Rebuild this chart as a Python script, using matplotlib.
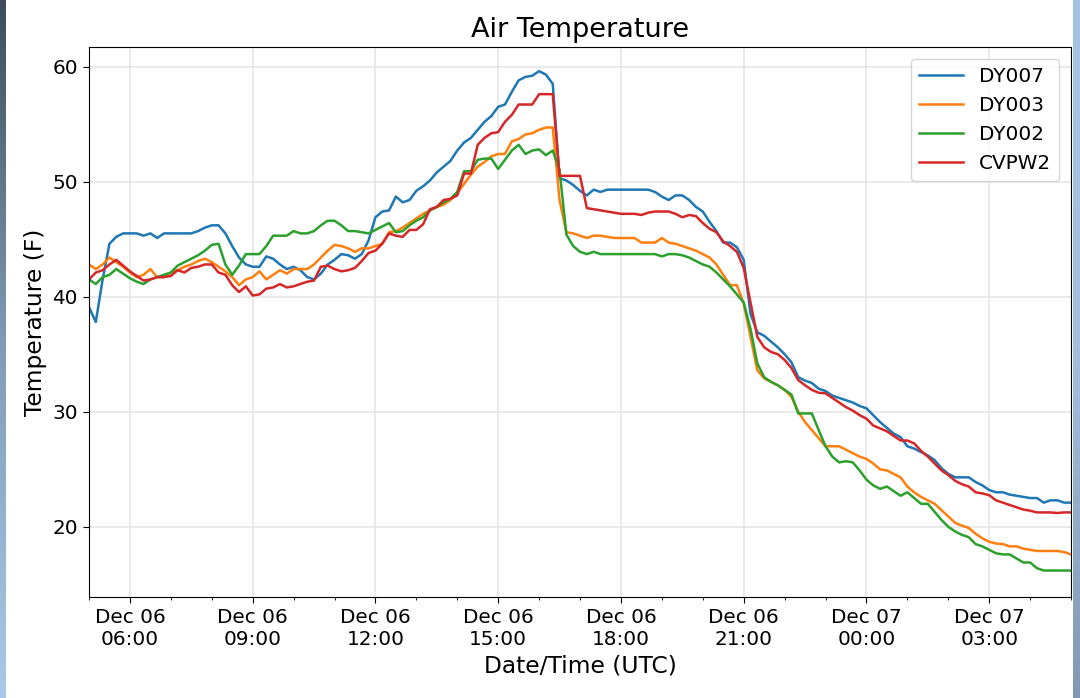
import numpy as np
import pandas as pd
import matplotlib
matplotlib.use("Agg")
import matplotlib.pyplot as plt
import matplotlib.dates as mdates

# 10-minute observations, Dec 06 05:00 UTC -> Dec 07 05:00 UTC
times = pd.date_range("2018-12-06 05:00", periods=145, freq="10min")

dy007 = [
    39.1, 37.8, 41.5, 44.6, 45.2, 45.5, 45.5, 45.5, 45.3, 45.5, 45.1, 45.5, 45.5, 45.5, 45.5, 45.5,
    45.7, 46.0, 46.2, 46.2, 45.5, 44.4, 43.4, 42.8, 42.6, 42.6, 43.5, 43.3, 42.8, 42.4, 42.6, 42.3,
    41.7, 41.5, 42.0, 42.8, 43.2, 43.7,
    43.6, 43.3, 43.7, 44.9, 46.9, 47.4, 47.5, 48.7, 48.2, 48.4, 49.2, 49.6, 50.1, 50.8, 51.3, 51.8,
    52.7, 53.4, 53.8, 54.5, 55.2, 55.7, 56.5, 56.7, 57.8, 58.8, 59.1, 59.2, 59.6, 59.3, 58.5, 50.3,
    50.1, 49.7,
    49.2, 48.8, 49.3, 49.1, 49.3, 49.3, 49.3, 49.3, 49.3, 49.3, 49.3, 49.1, 48.7, 48.4, 48.8, 48.8,
    48.4, 47.8, 47.4, 46.5, 45.7, 44.7, 44.7, 44.3, 43.2, 38.5, 36.9, 36.6, 36.1, 35.6, 35.0, 34.3,
    33.0, 32.7, 32.5, 32.0, 31.8, 31.4, 31.2, 31.0, 30.8, 30.5, 30.3, 29.7, 29.1, 28.6, 28.1, 27.8,
    27.0, 26.8, 26.5, 26.2, 25.8, 25.1, 24.6, 24.3, 24.3, 24.3, 23.9, 23.6, 23.2, 23.0, 23.0, 22.8,
    22.7, 22.6, 22.5, 22.5, 22.1, 22.3, 22.3, 22.1, 22.1,
]

dy003 = [
    42.8, 42.4, 42.8, 43.4, 43.0, 42.6, 42.1, 41.7, 41.9, 42.4, 41.7, 41.7, 42.1, 42.3, 42.6, 42.8,
    43.1, 43.3, 43.0, 42.6, 42.2, 41.7, 41.0, 41.5, 41.7, 42.2, 41.5, 41.9, 42.3, 42.0, 42.4, 42.4,
    42.4, 42.8, 43.4, 44.0, 44.5, 44.4,
    44.2, 43.9, 44.2, 44.2, 44.4, 44.6, 45.6, 45.7, 46.0, 46.4, 46.8, 47.2, 47.5, 47.8, 48.0, 48.4,
    49.0, 49.8, 50.6, 51.3, 51.7, 52.2, 52.4, 52.4, 53.5, 53.7, 54.1, 54.2, 54.5, 54.7, 54.7, 48.4,
    45.6, 45.5,
    45.3, 45.1, 45.3, 45.3, 45.2, 45.1, 45.1, 45.1, 45.1, 44.7, 44.7, 44.7, 45.1, 44.7, 44.6, 44.4,
    44.2, 44.0, 43.7, 43.4, 42.8, 41.9, 41.0, 41.0, 39.4, 36.5, 33.6, 32.9, 32.6, 32.3, 31.9, 31.3,
    30.0, 29.1, 28.4, 27.7, 27.0, 27.0, 27.0, 26.7, 26.4, 26.1, 25.9, 25.5, 25.0, 24.9, 24.6, 24.3,
    23.5, 23.0, 22.6, 22.3, 22.0, 21.45, 20.9, 20.35, 20.1, 19.9, 19.4, 19.0, 18.7, 18.55, 18.5, 18.3,
    18.3, 18.1, 18.0, 17.9, 17.9, 17.9, 17.9, 17.8, 17.6,
]

dy002 = [
    41.5, 41.1, 41.7, 41.9, 42.4, 42.0, 41.6, 41.3, 41.1, 41.5, 41.7, 41.9, 42.1, 42.7, 43.0, 43.3,
    43.6, 44.0, 44.5, 44.6, 42.8, 41.9, 42.7, 43.7, 43.7, 43.7, 44.4, 45.3, 45.3, 45.3, 45.7, 45.5,
    45.5, 45.7, 46.2, 46.6, 46.6, 46.2,
    45.7, 45.7, 45.6, 45.5, 45.8, 46.1, 46.4, 45.6, 45.7, 46.2, 46.6, 46.9, 47.5, 47.8, 48.2, 48.5,
    49.1, 50.9, 50.9, 51.9, 52.0, 52.0, 51.1, 51.9, 52.7, 53.2, 52.4, 52.7, 52.8, 52.3, 52.7, 51.0,
    45.4, 44.4,
    43.9, 43.7, 43.9, 43.7, 43.7, 43.7, 43.7, 43.7, 43.7, 43.7, 43.7, 43.7, 43.5, 43.7, 43.7, 43.6,
    43.4, 43.1, 42.8, 42.6, 42.1, 41.5, 40.9, 40.2, 39.5, 37.2, 34.2, 33.0, 32.6, 32.3, 31.9, 31.5,
    29.85, 29.85, 29.85, 28.4, 27.0, 26.1, 25.6, 25.7, 25.6, 24.9, 24.1, 23.6, 23.3, 23.5, 23.1, 22.7,
    23.0, 22.5, 22.0, 22.0, 21.3, 20.6, 20.0, 19.6, 19.3, 19.1, 18.5, 18.3, 18.0, 17.7, 17.6, 17.6,
    17.25, 16.9, 16.9, 16.4, 16.2, 16.2, 16.2, 16.2, 16.2,
]

cvpw2 = [
    41.5, 42.1, 42.3, 42.8, 43.2, 42.7, 42.2, 41.8, 41.4, 41.5, 41.7, 41.7, 41.8, 42.3, 42.1, 42.5,
    42.6, 42.8, 42.8, 42.1, 41.9, 41.0, 40.4, 40.9, 40.1, 40.2, 40.7, 40.8, 41.1, 40.8, 40.9, 41.1,
    41.3, 41.4, 42.6, 42.7, 42.4, 42.2,
    42.3, 42.5, 43.1, 43.8, 44.0, 44.6, 45.5, 45.3, 45.2, 45.8, 45.8, 46.3, 47.6, 47.8, 48.4, 48.5,
    48.8, 50.7, 50.7, 53.2, 53.8, 54.2, 54.3, 55.2, 55.8, 56.7, 56.7, 56.7, 57.6, 57.6, 57.6, 50.5,
    50.5, 50.5,
    50.5, 47.7, 47.6, 47.5, 47.4, 47.3, 47.2, 47.2, 47.2, 47.1, 47.3, 47.4, 47.4, 47.4, 47.2, 46.9,
    47.1, 47.0, 46.4, 45.9, 45.6, 44.8, 44.4, 43.9, 42.5, 39.5, 36.5, 35.6, 35.2, 35.0, 34.5, 33.8,
    32.75, 32.3, 31.9, 31.65, 31.6, 31.2, 30.8, 30.4, 30.1, 29.7, 29.4, 28.8, 28.55, 28.3, 27.9, 27.5,
    27.5, 27.25, 26.6, 26.1, 25.5, 24.9, 24.5, 24.0, 23.7, 23.5, 23.0, 22.9, 22.75, 22.3, 22.1, 21.9,
    21.7, 21.5, 21.4, 21.25, 21.25, 21.25, 21.2, 21.25, 21.25,
]

stations = ["DY007", "DY003", "DY002", "CVPW2"]
series = [dy007, dy003, dy002, cvpw2]

fig = plt.figure(figsize=(10.8, 6.98), dpi=100)
ax = fig.add_axes([0.0824, 0.1447, 0.9093, 0.788])

for name, vals in zip(stations, series):
    ax.plot(times, vals, label=name, linewidth=1.8)

ax.set_xlim(times[0], times[-1])
ax.set_ylim(13.9, 61.7)
ax.set_yticks([20, 30, 40, 50, 60])

ax.xaxis.set_major_locator(mdates.HourLocator(byhour=range(0, 24, 3)))
ax.xaxis.set_minor_locator(mdates.HourLocator())
ax.xaxis.set_major_formatter(mdates.DateFormatter("%b %d\n%H:%M"))
for lab in ax.get_xticklabels():
    lab.set_horizontalalignment("center")

ax.tick_params(axis="both", which="major", labelsize=14.4, length=4.5)
ax.tick_params(axis="x", which="minor", length=2.5)
ax.grid(True, which="major", color="#e4e4e4", linewidth=1.1)
ax.set_axisbelow(True)

ax.set_title("Air Temperature", fontsize=19.5, pad=7)
ax.set_xlabel("Date/Time (UTC)", fontsize=16.8, labelpad=4)
ax.set_ylabel("Temperature (F)", fontsize=16.8)

ax.legend(loc="upper right", fontsize=14.4, handlelength=2.2, borderaxespad=0.6)

# screenshot edges: dark strip on the left, light blue strip on the right
grad = np.linspace(0, 1, 256).reshape(-1, 1)
left = fig.add_axes([0, 0, 6 / 1080, 1])
left.imshow(grad, aspect="auto", cmap=matplotlib.colors.LinearSegmentedColormap.from_list(
    "l", ["#a9c9e8", "#7f9db9", "#3f4d5a"]), origin="lower")
left.axis("off")
right = fig.add_axes([1073 / 1080, 0, 7 / 1080, 1])
right.imshow(grad, aspect="auto", cmap=matplotlib.colors.LinearSegmentedColormap.from_list(
    "r", ["#8299b2", "#a3bfdc", "#a6c4e2"]), origin="lower")
right.axis("off")

fig.savefig("out.png", dpi=100)
